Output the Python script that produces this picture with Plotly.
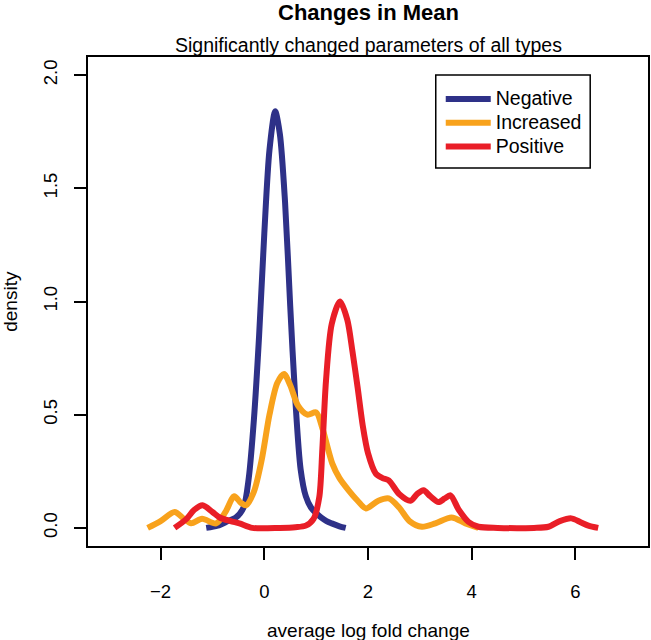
import plotly.graph_objects as go

# ---- data ----
neg_x = [-1.12, -0.9, -0.7, -0.55, -0.4, -0.3, -0.2, -0.1, 0.0, 0.1, 0.21, 0.3, 0.4, 0.5, 0.6, 0.7, 0.8, 0.9, 1.0, 1.1, 1.2, 1.3, 1.45, 1.57]
neg_y = [0.0, 0.01, 0.03, 0.045, 0.09, 0.22, 0.48, 0.85, 1.30, 1.67, 1.84, 1.74, 1.44, 0.98, 0.56, 0.26, 0.14, 0.09, 0.065, 0.045, 0.03, 0.02, 0.007, 0.0]

inc_x = [-2.25, -2.0, -1.73, -1.55, -1.41, -1.2, -0.93, -0.75, -0.58, -0.45, -0.35, -0.2, -0.05, 0.1, 0.25, 0.38, 0.5, 0.65, 0.83, 1.0, 1.12, 1.31, 1.45, 1.63, 1.8, 1.96, 2.2, 2.4, 2.6, 2.8, 3.04, 3.3, 3.61, 3.88, 4.13]
inc_y = [0.0, 0.03, 0.07, 0.04, 0.02, 0.04, 0.02, 0.07, 0.14, 0.11, 0.10, 0.16, 0.30, 0.50, 0.64, 0.68, 0.63, 0.54, 0.50, 0.51, 0.44, 0.285, 0.22, 0.165, 0.12, 0.086, 0.12, 0.13, 0.09, 0.03, 0.005, 0.02, 0.046, 0.02, 0.0]

pos_x = [-1.73, -1.5, -1.35, -1.19, -1.0, -0.86, -0.65, -0.48, -0.23, 0.3, 0.6, 0.8, 0.95, 1.06, 1.12, 1.19, 1.3, 1.46, 1.6, 1.7, 1.8, 1.9, 2.0, 2.15, 2.28, 2.4, 2.6, 2.82, 2.95, 3.07, 3.2, 3.36, 3.48, 3.59, 3.75, 3.94, 4.13, 4.5, 5.2, 5.48, 5.7, 5.92, 6.1, 6.25, 6.44]
pos_y = [0.0, 0.04, 0.08, 0.10, 0.07, 0.046, 0.03, 0.02, 0.0, 0.0, 0.003, 0.01, 0.04, 0.135, 0.35, 0.65, 0.90, 1.00, 0.92, 0.78, 0.62, 0.45, 0.33, 0.24, 0.22, 0.21, 0.15, 0.12, 0.15, 0.166, 0.14, 0.114, 0.13, 0.144, 0.08, 0.026, 0.005, 0.0, 0.0, 0.005, 0.03, 0.042, 0.025, 0.01, 0.0]

series_names = ["Negative", "Increased", "Positive"]
series_colors = ["#2E3188", "#F8A21C", "#E91E27"]

x_ticks = [-2, 0, 2, 4, 6]
y_ticks = [0.0, 0.5, 1.0, 1.5, 2.0]
y_tick_labels = ["0.0", "0.5", "1.0", "1.5", "2.0"]

FONT = "Liberation Sans, Arial, Helvetica, sans-serif"

# plot area in pixels
L, R, T, B = 88, 1, 57, 94
W, H = 651, 640
pw, ph = W - L - R, H - T - B

fig = go.Figure()
for name, xs, ys, col in zip(series_names, [neg_x, inc_x, pos_x], [neg_y, inc_y, pos_y], series_colors):
    fig.add_trace(go.Scatter(x=xs, y=ys, mode="lines",
                             name='<span style="font-size:19.5px">' + name + '</span>',
                             line=dict(color=col, width=6, shape="spline", smoothing=0.8)))

axis_common = dict(showline=True, linecolor="black", linewidth=1.5, mirror=True,
                   ticks="outside", tickcolor="black", tickwidth=1.5,
                   showgrid=False, zeroline=False,
                   tickfont=dict(family=FONT, size=18.5, color="black"))

def px_x(p):
    return (p - L) / pw

def px_y(p):
    return (H - B - p) / ph

fig.update_layout(
    width=W, height=H,
    margin=dict(l=L, r=R, t=T, b=B),
    paper_bgcolor="white", plot_bgcolor="white",
    showlegend=True,
    legend=dict(x=px_x(442), y=px_y(82), xanchor="left", yanchor="top",
                bgcolor="rgba(0,0,0,0)", borderwidth=0, itemwidth=45,
                font=dict(family=FONT, size=16, color="black"), tracegroupgap=0),
    xaxis=dict(range=[-3.4, 7.4], tickvals=x_ticks, ticklen=12, ticklabelstandoff=16, **axis_common),
    yaxis=dict(range=[-0.08, 2.08], tickvals=y_ticks, ticktext=y_tick_labels, ticklen=12,
               tickangle=-90, ticklabelstandoff=10, **axis_common),
    annotations=[
        dict(text="<b>Changes in Mean</b>", xref="paper", yref="paper",
             x=0.5, y=px_y(12), yanchor="middle", showarrow=False,
             font=dict(family=FONT, size=22, color="black")),
        dict(text="Significantly changed parameters of all types", xref="paper", yref="paper",
             x=0.5, y=px_y(45), yanchor="middle", showarrow=False,
             font=dict(family=FONT, size=19.5, color="black")),
        dict(text="average log fold change", xref="paper", yref="paper",
             x=0.5, y=px_y(630), yanchor="middle", showarrow=False,
             font=dict(family=FONT, size=19, color="black")),
        dict(text="density", xref="paper", yref="paper", textangle=-90,
             x=px_x(10), y=0.5, xanchor="center", yanchor="middle", showarrow=False,
             font=dict(family=FONT, size=19, color="black")),
    ],
    shapes=[dict(type="rect", xref="paper", yref="paper",
                 x0=px_x(437), x1=px_x(592), y0=px_y(168), y1=px_y(75),
                 line=dict(color="black", width=1.5), fillcolor="rgba(0,0,0,0)")],
)

fig.write_html("out.html", config={"displayModeBar": False},
               post_script="document.body.style.margin='0';document.body.style.overflow='hidden';")
